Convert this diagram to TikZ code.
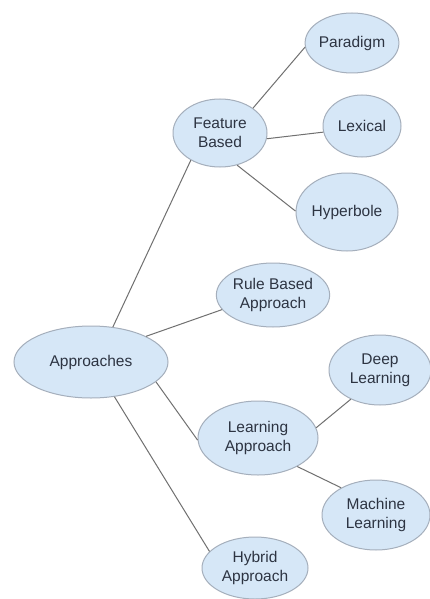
\documentclass[tikz,border=0pt]{standalone}
\usepackage{fontspec}
\setmainfont{Liberation Sans}
\usetikzlibrary{shapes.geometric}
\definecolor{nodefill}{RGB}{214,231,247}
\definecolor{nodeedge}{RGB}{165,175,188}
\definecolor{nodetext}{RGB}{45,52,66}
\definecolor{linkcol}{RGB}{112,112,112}
\tikzset{
  bubble/.style={ellipse, draw=nodeedge, line width=1pt, fill=nodefill, inner sep=0pt,
    text=nodetext, align=center, font=\fontsize{15.5}{19}\selectfont},
  link/.style={draw=linkcol, line width=1pt}
}
\begin{document}
\begin{tikzpicture}[x=1pt,y=-1pt]
\useasboundingbox (0,0) rectangle (430,599);
\fill[white] (0,0) rectangle (430,599);
\node[bubble, minimum width=74pt, minimum height=60pt] (par) at (352,43) {Paradigm};
\node[bubble, minimum width=94pt, minimum height=68pt] (fb) at (220,133) {Feature\\Based};
\node[bubble, minimum width=78pt, minimum height=62pt] (lex) at (362,126) {Lexical};
\node[bubble, minimum width=102pt, minimum height=78pt] (hyp) at (347,212) {Hyperbole};
\node[bubble, minimum width=96pt, minimum height=64pt] (rule) at (273,295) {Rule Based\\Approach};
\node[bubble, minimum width=154pt, minimum height=72pt] (app) at (91,362) {Approaches};
\node[bubble, minimum width=102pt, minimum height=70pt] (deep) at (380,370) {Deep\\Learning};
\node[bubble, minimum width=120pt, minimum height=74pt] (learn) at (258,438) {Learning\\Approach};
\node[bubble, minimum width=108pt, minimum height=70pt] (mach) at (376,515) {Machine\\Learning};
\node[bubble, minimum width=106pt, minimum height=62pt] (hyb) at (255,568) {Hybrid\\Approach};
\draw[link] (app.58) -- (fb.223);
\draw[link] (app.25) -- (rule.196);
\draw[link] (app.343) -- (learn.182);
\draw[link] (app.304) -- (hyb.160);
\draw[link] (fb.37) -- (par.185);
\draw[link] (fb.353) -- (lex.189);
\draw[link] (fb.298) -- (hyp.179);
\draw[link] (learn.10) -- (deep.225);
\draw[link] (learn.324) -- (mach.142);
\end{tikzpicture}
\end{document}
